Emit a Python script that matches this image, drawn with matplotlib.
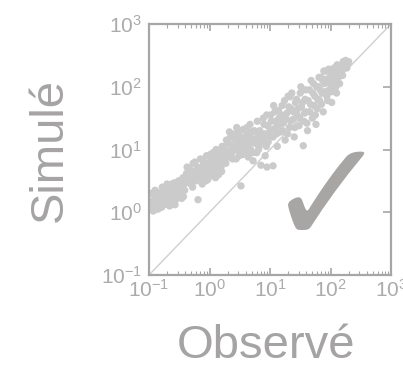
import numpy as np
import matplotlib
matplotlib.use("Agg")
import matplotlib.pyplot as plt
from matplotlib.ticker import LogLocator, FuncFormatter, NullFormatter

plt.rcParams['font.family'] = ['Liberation Sans', 'DejaVu Sans']
plt.rcParams['mathtext.fontset'] = 'custom'
plt.rcParams['mathtext.rm'] = 'Liberation Sans'
plt.rcParams['mathtext.it'] = 'Liberation Sans'

obs_log10_a = [
    -0.97, -0.95, -0.93, -0.92, -0.90, -0.88, -0.86, -0.85, -0.83, -0.80,
    -0.78, -0.77, -0.75, -0.73, -0.70, -0.69, -0.67, -0.65, -0.63, -0.60,
    -0.58, -0.56, -0.55, -0.52, -0.50, -0.48, -0.45, -0.43, -0.42, -0.40,
    -0.38, -0.35, -0.33, -0.30, -0.28, -0.27, -0.25, -0.22, -0.20, -0.19,
    -0.18, -0.15, -0.13, -0.12, -0.10, -0.08, -0.05, -0.03, 0.00, 0.02,
    0.04, 0.06, 0.08, 0.10, 0.12, 0.14, 0.16, 0.18, 0.20, 0.22,
    0.25, 0.27, 0.30, 0.32, 0.35, 0.37, 0.40, 0.42, 0.44, 0.46,
    0.48, 0.50, 0.52, 0.53, 0.55, 0.57, 0.60, 0.62, 0.64, 0.66,
    0.68, 0.70, 0.72, 0.75, 0.78, 0.80, 0.82, 0.85, 0.88, 0.90,
    0.92, 0.95, 0.97, 1.00, 1.05, 0.945, 1.33,
    1.02, 1.05, 1.08, 1.10, 1.12, 1.15, 1.18, 1.20, 1.22, 1.25,
    1.28, 1.30, 1.32, 1.35, 1.38, 1.40, 1.42, 1.45, 1.48, 1.50,
    1.52, 1.55, 1.56, 1.58, 1.60, 1.62, 1.65, 1.67, 1.70, 1.72,
    1.74, 1.76, 1.78,
    1.80, 1.82, 1.84, 1.86, 1.88, 1.90, 1.92, 1.94, 1.96, 1.98,
    2.00, 2.02, 2.04, 2.06, 2.08, 2.10, 2.12, 2.15, 2.17, 2.20,
    2.22, 2.24, 2.27,
]
sim_log10_a = [
    0.08, 0.18, 0.02, 0.28, 0.35, 0.12, 0.22, 0.05, 0.30, 0.18,
    0.40, 0.25, 0.12, 0.33, 0.45, 0.22, 0.30, 0.15, 0.38, 0.28,
    0.47, 0.20, 0.35, 0.42, 0.30, 0.50, 0.38, 0.25, 0.45, 0.55,
    0.62, 0.48, 0.70, 0.55, 0.40, 0.78, 0.63, 0.50, 0.72, 0.20,
    0.58, 0.85, 0.67, 0.45, 0.75, 0.60, 0.90, 0.52, 0.70, 0.82,
    0.62, 0.95, 0.75, 0.55, 0.87, 0.68, 0.98, 0.80, 0.65, 0.90,
    1.00, 0.78, 1.10, 0.88, 1.20, 0.95, 1.05, 1.25, 0.85, 1.15,
    0.98, 1.30, 0.42, 1.08, 0.92, 1.20, 1.02, 1.35, 0.88, 1.15,
    1.00, 1.28, 0.82, 1.10, 0.95, 1.22, 1.05, 0.75, 1.18, 1.40,
    0.90, 0.72, 1.12, 1.30, 0.74, 1.55, 1.84,
    1.45, 1.20, 1.60, 1.35, 1.05, 1.50, 1.28, 1.70, 1.42, 1.15,
    1.58, 1.85, 1.35, 1.65, 1.48, 1.20, 1.75, 1.55, 1.38, 1.90,
    1.68, 1.06, 1.45, 1.80, 1.60, 1.30, 1.95, 1.72, 1.50, 2.05,
    1.85, 1.40, 1.65,
    2.00, 1.78, 2.15, 1.90, 1.60, 2.05, 2.25, 1.85, 2.10, 1.95,
    2.20, 1.75, 2.00, 2.30, 2.12, 1.90, 2.20, 2.05, 2.28, 2.18,
    2.35, 2.38, 2.30,
]
obs_log10_b = [
    -0.99, -0.96, -0.94, -0.91, -0.89, -0.87, -0.84, -0.82, -0.79, -0.76,
    -0.74, -0.71, -0.68, -0.66, -0.64, -0.62, -0.59, -0.57, -0.54, -0.51,
    -0.49, -0.46, -0.44, -0.41, -0.39,
    -0.37, -0.34, -0.31, -0.29, -0.26, -0.24, -0.21, -0.17, -0.14, -0.11,
    -0.09, -0.06, -0.04, -0.01, 0.01, 0.03, 0.05, 0.07, 0.09, 0.11,
    0.13, 0.15, 0.17, 0.19, 0.21, 0.23,
    0.26, 0.28, 0.31, 0.33, 0.36, 0.38, 0.41, 0.43, 0.45, 0.47,
    0.49, 0.51, 0.54, 0.56, 0.58, 0.61, 0.63, 0.65, 0.67, 0.69,
    0.71, 0.74, 0.76, 0.79, 0.81, 0.83, 0.86, 0.89, 0.91, 0.94,
    0.96, 0.99,
    1.01, 1.03, 1.06, 1.09, 1.11, 1.14, 1.16, 1.19, 1.21, 1.24,
    1.26, 1.29, 1.31, 1.34, 1.36, 1.39, 1.41, 1.44, 1.46, 1.49,
    1.51, 1.54, 1.57, 1.59, 1.61, 1.63, 1.66, 1.68, 1.71, 1.73,
    1.75, 1.77, 1.79,
    1.81, 1.83, 1.85, 1.87, 1.89, 1.91, 1.93, 1.95, 1.97, 1.99,
    2.01, 2.03, 2.05, 2.07, 2.09, 2.11, 2.13, 2.16, 2.18, 2.21,
    2.23, 2.25, 2.28, 2.30,
]
sim_log10_b = [
    0.15, 0.30, 0.10, 0.20, 0.05, 0.32, 0.15, 0.25, 0.08, 0.35,
    0.20, 0.28, 0.40, 0.10, 0.25, 0.45, 0.35, 0.12, 0.28, 0.50,
    0.40, 0.22, 0.55, 0.35, 0.48,
    0.72, 0.58, 0.45, 0.65, 0.52, 0.80, 0.60, 0.70, 0.55, 0.82,
    0.68, 0.50, 0.78, 0.62, 0.92, 0.72, 0.58, 0.85, 0.65, 1.00,
    0.78, 0.60, 0.90, 0.72, 1.05, 0.82,
    0.92, 1.15, 0.98, 1.28, 1.08, 0.85, 1.18, 1.00, 1.35, 1.08,
    0.90, 1.20, 1.02, 1.32, 1.12, 0.95, 1.25, 1.08, 1.40, 1.18,
    0.95, 1.30, 1.15, 1.45, 1.00, 1.30, 1.12, 1.50, 1.25, 1.05,
    1.38, 1.20,
    1.55, 1.32, 1.70, 1.45, 1.25, 1.62, 1.40, 1.55, 1.30, 1.78,
    1.50, 1.25, 1.68, 1.45, 1.90, 1.60, 1.35, 1.80, 1.65, 1.50,
    2.00, 1.75, 1.58, 1.95, 1.42, 1.78, 1.60, 2.10, 1.90, 1.70,
    1.55, 2.00, 1.80,
    2.15, 1.95, 1.72, 2.10, 2.25, 1.92, 2.12, 1.78, 2.28, 2.05,
    1.92, 2.18, 2.08, 2.22, 2.00, 2.35, 2.15, 2.32, 2.20, 2.40,
    2.30, 2.42, 2.36, 2.40,
]

observed = 10.0 ** np.array(obs_log10_a + obs_log10_b)
simulated = 10.0 ** np.array(sim_log10_a + sim_log10_b)
limits = [0.1, 1000.0]

TXT = '#a5a3a3'
TICK = '#ababab'

fig = plt.figure(figsize=(4.03, 3.68), dpi=100)
ax = fig.add_axes([149/403, 1-275/368, 242/403, 251/368])

ax.plot(limits, limits, color='#cfcfcf', lw=1.0, zorder=1)
ax.scatter(observed, simulated, s=28, color='#cbcbcb', edgecolors='none', zorder=2)

ax.set_xscale('log')
ax.set_yscale('log')
ax.set_xlim(limits)
ax.set_ylim(limits)

fmt = FuncFormatter(lambda v, p: r'$\mathregular{10^{%d}}$' % int(round(np.log10(v))))
ax.xaxis.set_major_locator(LogLocator(base=10, numticks=10))
ax.yaxis.set_major_locator(LogLocator(base=10, numticks=10))
ax.xaxis.set_major_formatter(fmt)
ax.yaxis.set_major_formatter(fmt)
ax.xaxis.set_minor_locator(LogLocator(base=10, subs=np.arange(2, 10), numticks=20))
ax.xaxis.set_minor_formatter(NullFormatter())
ax.yaxis.set_minor_locator(LogLocator(base=10, subs=[], numticks=20))

for s in ax.spines.values():
    s.set_color('#a6a6a6')
    s.set_linewidth(1.6)

ax.tick_params(axis='x', which='major', direction='in', length=5, width=1.2,
               colors='#a6a6a6', labelcolor=TICK, labelsize=15, top=True, pad=3)
ax.tick_params(axis='x', which='minor', direction='in', length=3, width=0.8,
               colors='#a6a6a6', top=True)
ax.tick_params(axis='y', which='major', direction='in', length=6, width=1.2,
               colors='#a6a6a6', labelcolor=TICK, labelsize=15, left=False,
               right=True, labelleft=True, pad=5)

ax.text(0.74, 0.285, '\u2713', transform=ax.transAxes, ha='center', va='center',
        fontsize=106, fontweight='bold', color='#a8a5a5', family='DejaVu Sans', zorder=3)

fig.text(50/403, 1-150/368, 'Simulé', rotation=90, ha='center', va='center',
         fontsize=34, color=TXT)
fig.text(266/403, 1-346/368, 'Observé', ha='center', va='center',
         fontsize=34, color=TXT)

fig.savefig('out.png', dpi=100, facecolor='white')
